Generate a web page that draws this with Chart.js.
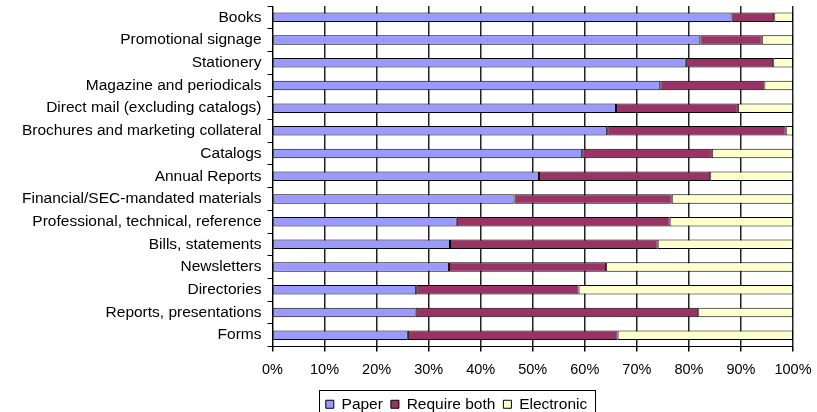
<!DOCTYPE html>
<html>
<head>
<meta charset="utf-8">
<script src="https://cdn.jsdelivr.net/npm/chart.js@4.4.0/dist/chart.umd.min.js"></script>
<style>
  html, body { margin: 0; padding: 0; background: #fff; }
  canvas { display: block; }
</style>
</head>
<body>
<canvas id="chart" width="817" height="412"></canvas>
<script>
// categories, top to bottom
const categories = [
    'Books', 'Promotional signage', 'Stationery', 'Magazine and periodicals',
    'Direct mail (excluding catalogs)', 'Brochures and marketing collateral',
    'Catalogs', 'Annual Reports', 'Financial/SEC-mandated materials',
    'Professional, technical, reference', 'Bills, statements', 'Newsletters',
    'Directories', 'Reports, presentations', 'Forms'
];

// share of respondents (%)
const paper       = [88.2, 82.2, 79.4, 74.5, 66.0, 64.3, 59.5, 51.2, 46.5, 35.4, 34.1, 33.9, 27.6, 27.5, 26.0];
const requireBoth = [ 8.2, 11.8, 16.8, 20.0, 23.4, 34.3, 24.9, 32.9, 30.2, 40.9, 39.9, 30.2, 31.2, 54.3, 40.3];
const electronic  = [ 3.6,  6.0,  3.8,  5.5, 10.6,  1.4, 15.6, 15.9, 23.3, 23.7, 26.0, 35.9, 41.2, 18.2, 33.7];

const xTicks = [0, 10, 20, 30, 40, 50, 60, 70, 80, 90, 100];

const FONT = '"Liberation Sans", Arial, sans-serif';

// nudge the legend and draw a frame round it, like the excel original
const legendFrame = {
    id: 'legendFrame',
    afterLayout(chart) {
        const lg = chart.legend;
        lg.left += 40;
        lg.right += 40;
        lg.top += 8;
        lg.bottom += 8;
    },
    afterDraw(chart) {
        const boxes = chart.legend.legendHitBoxes;
        if (!boxes || !boxes.length) return;
        const l = Math.min(...boxes.map(b => b.left));
        const r = Math.max(...boxes.map(b => b.left + b.width));
        const t = Math.min(...boxes.map(b => b.top));
        const h = boxes[0].height;
        const ctx = chart.ctx;
        ctx.save();
        ctx.strokeStyle = '#000';
        ctx.lineWidth = 1;
        ctx.strokeRect(Math.round(l - 7) + 0.5, Math.round(t - 7) + 0.5, Math.round(r - l + 15), h + 16);
        ctx.restore();
    }
};

new Chart(document.getElementById('chart'), {
    type: 'bar',
    data: {
        labels: categories,
        datasets: [
            { label: 'Paper', data: paper, backgroundColor: '#9999ff' },
            { label: 'Require both', data: requireBoth, backgroundColor: '#993366' },
            { label: 'Electronic', data: electronic, backgroundColor: '#ffffcc' }
        ].map(d => Object.assign(d, {
            borderColor: '#000',
            borderWidth: 1,
            borderSkipped: false,
            barPercentage: 0.42,
            categoryPercentage: 1
        }))
    },
    options: {
        indexAxis: 'y',
        responsive: false,
        animation: false,
        layout: { padding: { top: 6, left: 16, right: 0, bottom: -2 } },
        scales: {
            x: {
                stacked: true,
                min: 0,
                max: 100,
                afterBuildTicks: axis => { axis.ticks = xTicks.map(v => ({ value: v })); },
                afterFit: axis => { axis.paddingRight = 24; axis.height = 34; },
                ticks: {
                    callback: v => v + '%',
                    color: '#000',
                    padding: 10,
                    maxRotation: 0,
                    font: { family: FONT, size: 14.5 }
                },
                grid: { color: '#222', lineWidth: 1.5, tickColor: '#000', tickLength: 5 },
                border: { color: '#000' }
            },
            y: {
                stacked: true,
                afterFit: axis => { axis.paddingTop = 0; axis.paddingBottom = 0; },
                ticks: {
                    color: '#000',
                    padding: 6,
                    autoSkip: false,
                    font: { family: FONT, size: 15.5 }
                },
                grid: { offset: true, drawOnChartArea: false, tickColor: '#000', tickLength: 5 },
                border: { color: '#000' }
            }
        },
        plugins: {
            legend: {
                position: 'bottom',
                labels: {
                    boxWidth: 8,
                    boxHeight: 8,
                    padding: 8,
                    color: '#000',
                    font: { family: FONT, size: 15.5 }
                }
            },
            tooltip: { enabled: false }
        }
    },
    plugins: [legendFrame]
});
</script>
</body>
</html>
